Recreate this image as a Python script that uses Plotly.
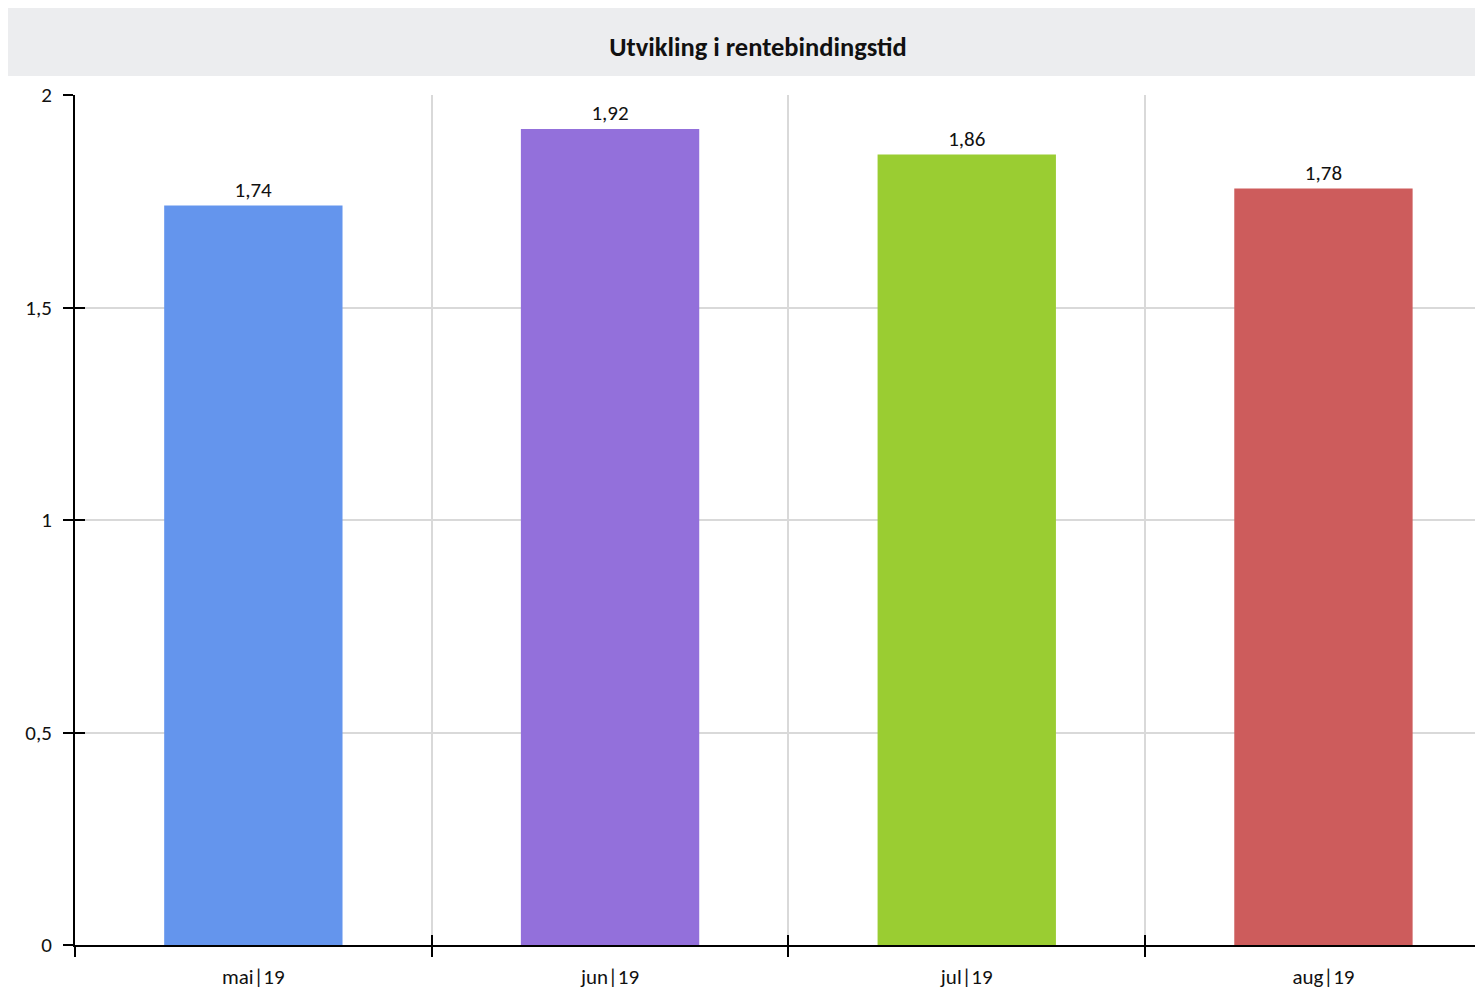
import plotly.graph_objects as go

months = ["mai|19", "jun|19", "jul|19", "aug|19"]
values = [1.74, 1.92, 1.86, 1.78]
labels = ["1,74", "1,92", "1,86", "1,78"]
colors = ["#6495ED", "#9370DB", "#9ACD32", "#CD5C5C"]
y_ticks = [0, 0.5, 1, 1.5, 2]
y_ticktext = ["0", "0,5", "1", "1,5", "2"]
title_text = "Utvikling i rentebindingstid"

FONT = "Carlito, Lato, sans-serif"
W, H = 1483, 982
L, T, B = 67, 87, 45
PW, PH = W - L, H - T - B
NCAT = PW / 356.7  # visible number of category widths

fig = go.Figure()
fig.add_trace(go.Bar(
    x=months, y=values, marker=dict(color=colors, line=dict(width=0)),
    width=0.5, text=labels, textposition="outside", cliponaxis=False,
    textfont=dict(size=21, color="#111111", family=FONT),
    hoverinfo="x+y", showlegend=False,
))
# invisible companion trace so the overlay axes (for crossing tick marks) exist
fig.add_trace(go.Scatter(
    x=months, y=values, xaxis="x2", yaxis="y2", mode="markers",
    marker=dict(opacity=0), hoverinfo="skip", showlegend=False,
))

xrange = [-0.5, -0.5 + NCAT]
yrange = [0, 2]

fig.update_layout(
    width=W, height=H,
    margin=dict(l=L, r=0, t=T, b=B, pad=0),
    paper_bgcolor="white", plot_bgcolor="white",
    separators=", ",
    font=dict(family=FONT, size=21, color="#111111"),
    title=dict(text="<b>" + title_text + "</b>", x=750 / W, xref="container",
               y=1 - 39 / H, yref="container", xanchor="center", yanchor="middle",
               font=dict(size=26.5, color="#111111", family=FONT)),
    xaxis=dict(type="category", range=xrange, tickson="boundaries",
               showgrid=True, gridcolor="#d9d9d9", gridwidth=1.5,
               showline=True, linecolor="black", linewidth=2,
               ticks="outside", ticklen=10, tickwidth=2, tickcolor="black",
               ticklabelstandoff=12,
               tickfont=dict(size=21, family=FONT), zeroline=False, fixedrange=True),
    yaxis=dict(range=yrange, tickvals=y_ticks, ticktext=y_ticktext,
               showgrid=True, gridcolor="#d9d9d9", gridwidth=1.5,
               showline=True, linecolor="black", linewidth=2,
               ticks="outside", ticklen=10, tickwidth=2, tickcolor="black",
               ticklabelstandoff=7,
               tickfont=dict(size=21, family=FONT), zeroline=False, fixedrange=True),
    xaxis2=dict(type="category", range=xrange, overlaying="x", anchor="y2",
                tickson="boundaries", showgrid=False, showline=False,
                ticks="inside", ticklen=10, tickwidth=2, tickcolor="black",
                showticklabels=False, zeroline=False, fixedrange=True),
    yaxis2=dict(range=yrange, overlaying="y", anchor="x2", side="left",
                tickvals=y_ticks, showgrid=False, showline=False,
                ticks="inside", ticklen=10, tickwidth=2, tickcolor="black",
                showticklabels=False, zeroline=False, fixedrange=True),
    shapes=[dict(type="rect", xref="paper", yref="paper",
                 x0=-L / PW, x1=1.01, y0=1 + (T - 68) / PH, y1=1 + T / PH,
                 fillcolor="#ECEDEF", line=dict(width=0), layer="below")],
)

fig.write_html("out.html")
